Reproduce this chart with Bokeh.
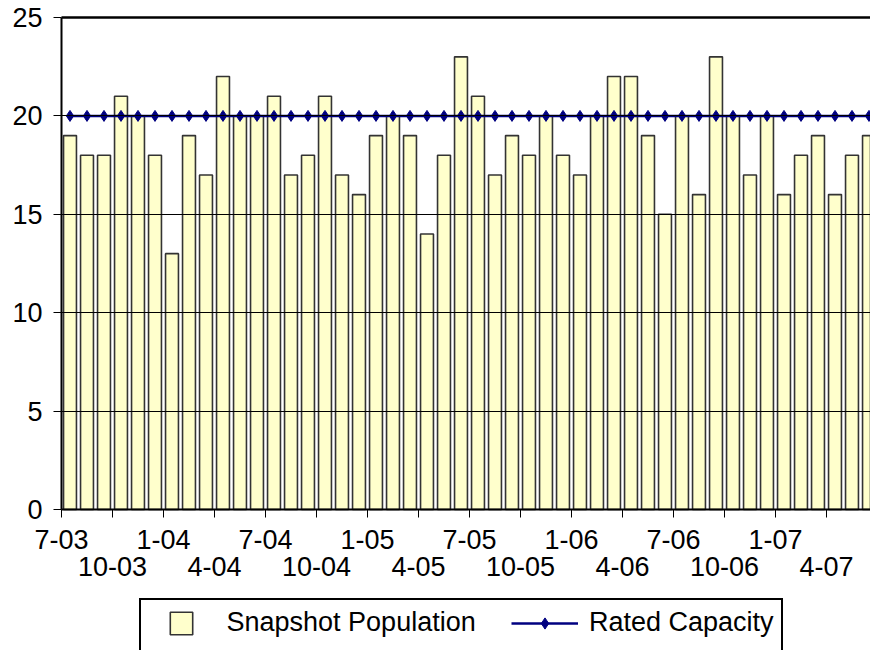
from bokeh.plotting import figure
from bokeh.models import (Range1d, FixedTicker, LinearAxis, Legend, LegendItem)
from bokeh.embed import file_html
from bokeh.resources import INLINE

# ---- data ----
months = ["7-03", "8-03", "9-03", "10-03", "11-03", "12-03",
          "1-04", "2-04", "3-04", "4-04", "5-04", "6-04",
          "7-04", "8-04", "9-04", "10-04", "11-04", "12-04",
          "1-05", "2-05", "3-05", "4-05", "5-05", "6-05",
          "7-05", "8-05", "9-05", "10-05", "11-05", "12-05",
          "1-06", "2-06", "3-06", "4-06", "5-06", "6-06",
          "7-06", "8-06", "9-06", "10-06", "11-06", "12-06",
          "1-07", "2-07", "3-07", "4-07", "5-07", "6-07"]
population = [19, 18, 18, 21, 20, 18, 13, 19, 17, 22, 20, 20,
              21, 17, 18, 21, 17, 16, 19, 20, 19, 14, 18, 23,
              21, 17, 19, 18, 20, 18, 17, 20, 22, 22, 19, 15,
              20, 16, 23, 20, 17, 20, 16, 18, 19, 16, 18, 19]
capacity = [20] * 48
y_ticks = [0, 5, 10, 15, 20, 25]

FONT = "Liberation Sans"
FS = "27px"

n = len(months)
xc = [i + 0.5 for i in range(n)]

# The frame covers the whole canvas; axes are pinned at x=0 / y=0 so that
# tick labels and the (cut-off) legend can sit inside it as in the reference.
PX = 17.0                     # pixels per month
x0 = -61 / PX                 # month 0 starts 61 px from the left
x1 = x0 + 870 / PX
YS = 492 / 25                 # pixels per unit on y (0 at 509 px, 25 at 17 px)
y0 = -(650 - 509) / YS
y1 = 25 + 17 / YS

p = figure(width=870, height=650, output_backend="svg", toolbar_location=None,
           x_range=Range1d(x0, x1), y_range=Range1d(y0, y1),
           min_border_left=0, min_border_right=0, min_border_top=0,
           min_border_bottom=0, x_axis_location=None, y_axis_location=None)
p.outline_line_color = None
p.background_fill_color = "white"
p.xgrid.visible = False
p.ygrid.visible = False

bars = p.vbar(x=xc, top=population, width=0.76, bottom=0,
              fill_color="#FFFFCC", line_color="#333333", line_width=1.6)
line = p.line(xc, capacity, line_color="#000080", line_width=2.5)
pts = p.scatter(xc, capacity, marker="diamond", size=11,
                fill_color="#000080", line_color="#000080")


def hline(v, width):
    """Horizontal rule across the plot area only (gridline / top border)."""
    ax = LinearAxis(ticker=FixedTicker(ticks=[], minor_ticks=[]),
                    fixed_location=v, bounds=(0, n))
    ax.axis_line_color = "black"
    ax.axis_line_width = width
    ax.major_tick_line_color = None
    ax.minor_tick_line_color = None
    ax.major_label_text_font_size = "0px"
    p.add_layout(ax, "above")


for v in y_ticks[1:-1]:
    hline(v, 1)
hline(y_ticks[-1], 2.5)

# y axis pinned at x=0
ya = LinearAxis(ticker=FixedTicker(ticks=y_ticks, minor_ticks=[]),
                fixed_location=0, bounds=(0, 25))
ya.axis_line_color = "black"
ya.axis_line_width = 2
ya.major_tick_out = 8
ya.major_tick_in = 0
ya.major_tick_line_color = "black"
ya.minor_tick_line_color = None
ya.major_label_standoff = 11
ya.major_label_text_font = FONT
ya.major_label_text_font_size = FS
ya.major_label_text_color = "black"
p.add_layout(ya, "left")

# x axes at y=0: row 1 and row 2 labels
row1 = list(range(0, n, 6))
row2 = list(range(3, n, 6))
ax1 = LinearAxis(ticker=FixedTicker(ticks=row1, minor_ticks=row2),
                 major_label_overrides={i: months[i] for i in row1},
                 fixed_location=0, bounds=(0, n))
ax1.axis_line_color = "black"
ax1.axis_line_width = 2
ax1.major_tick_out = 8
ax1.major_tick_in = 0
ax1.minor_tick_out = 8
ax1.minor_tick_in = 0
ax1.major_tick_line_color = "black"
ax1.minor_tick_line_color = "black"
ax1.major_label_standoff = 12
ax1.major_label_text_font = FONT
ax1.major_label_text_font_size = FS
ax1.major_label_text_color = "black"
p.add_layout(ax1, "below")

ax2 = LinearAxis(ticker=FixedTicker(ticks=row2, minor_ticks=[]),
                 major_label_overrides={i: months[i] for i in row2},
                 fixed_location=0)
ax2.axis_line_color = None
ax2.major_tick_line_color = None
ax2.minor_tick_line_color = None
ax2.major_tick_out = 0
ax2.major_tick_in = 0
ax2.major_label_standoff = 47
ax2.major_label_text_font = FONT
ax2.major_label_text_font_size = FS
ax2.major_label_text_color = "black"
p.add_layout(ax2, "below")

# legend: outer box + two item legends
dummy = p.line([], [], line_alpha=0)
legC = Legend(items=[LegendItem(label=" ", renderers=[dummy])],
              location=(139, -14), padding=0, glyph_width=620, glyph_height=62,
              label_standoff=0, label_text_font=FONT, label_text_font_size=FS,
              border_line_color="black", border_line_width=2,
              border_line_alpha=1,
              background_fill_color="white", background_fill_alpha=1)
legA = Legend(items=[LegendItem(label="Snapshot Population", renderers=[bars])],
              location=(166.5, 12), padding=0, glyph_width=28, glyph_height=28,
              label_height=28, label_standoff=32, label_text_font=FONT,
              label_text_font_size=FS, label_text_color="black",
              border_line_color=None, background_fill_alpha=0)
legB = Legend(items=[LegendItem(label="Rated Capacity", renderers=[line, pts])],
              location=(511, 12), padding=0, glyph_width=67, glyph_height=28,
              label_height=28, label_standoff=11, label_text_font=FONT,
              label_text_font_size=FS, label_text_color="black",
              border_line_color=None, background_fill_alpha=0)
p.add_layout(legC, "center")
p.add_layout(legA, "center")
p.add_layout(legB, "center")

open("out.html", "w").write(file_html(p, INLINE))
